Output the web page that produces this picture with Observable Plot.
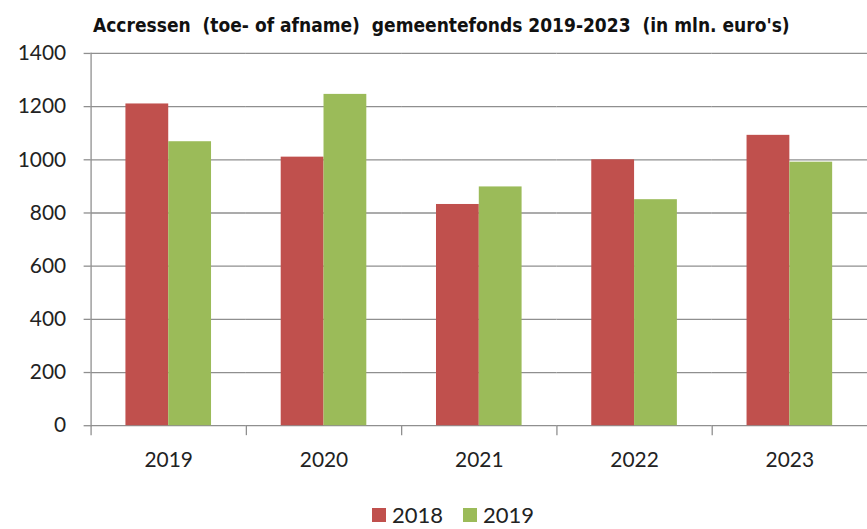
<!DOCTYPE html>
<html>
<head>
<meta charset="utf-8">
<script src="https://cdn.jsdelivr.net/npm/d3@7"></script>
<script src="https://cdn.jsdelivr.net/npm/@observablehq/plot@0.6"></script>
<style>
  html, body { margin: 0; padding: 0; background: #fff; width: 867px; height: 529px; overflow: hidden; position: relative; }
  #title { position: absolute; left: 93px; top: 14px; font-family: "Liberation Sans Narrow", "Arial Narrow", "DejaVu Sans Condensed", sans-serif; font-stretch: condensed; font-weight: bold; font-size: 19px; color: #111; white-space: pre; }
  #chart { position: absolute; left: 0; top: 40px; }
  #legend { position: absolute; left: 372px; top: 501px; display: flex; align-items: center; font-family: Lato, sans-serif; font-size: 22px; color: #222; }
  .sw { width: 14px; height: 14px; display: inline-block; margin-right: 6px; }
  .item { display: flex; align-items: center; margin-right: 20px; }
</style>
</head>
<body>
<div id="title">Accressen  (toe- of afname)  gemeentefonds 2019-2023  (in mln. euro's)</div>
<div id="chart"></div>
<div id="legend"></div>
<script>
const years = ["2019", "2020", "2021", "2022", "2023"];
const series = ["2018", "2019"];
const values2018 = [1210, 1010, 832, 1000, 1092];
const values2019 = [1068, 1246, 898, 850, 991];
const yTicks = [0, 200, 400, 600, 800, 1000, 1200, 1400];
const colors = ["#C0504D", "#9BBB59"];

const data = years.flatMap((yr, i) => [
  {year: yr, series: series[0], value: values2018[i]},
  {year: yr, series: series[1], value: values2019[i]}
]);

const gray = "#8f8f8f";

const chart = Plot.plot({
  width: 871,
  height: 440,
  marginTop: 13,
  marginBottom: 53,
  marginLeft: 91,
  marginRight: 0,
  style: {fontFamily: "Lato, sans-serif", fontSize: "21px", color: "#222", background: "transparent"},
  fx: {domain: years, padding: 0, label: null},
  x: {domain: series, paddingInner: 0, paddingOuter: 0.773, axis: null},
  y: {domain: [0, 1400], label: null},
  color: {domain: series, range: colors},
  marks: [
    Plot.gridY(yTicks, {stroke: gray, strokeOpacity: 1, strokeWidth: 1.3}),
    Plot.barY(data, {fx: "year", x: "series", y: "value", fill: "series"}),
    Plot.frame({anchor: "left", facetAnchor: "left", stroke: gray, strokeWidth: 1.3}),
    Plot.axisY(yTicks, {tickSize: 7, tickPadding: 18, fontSize: 21, tickFormat: d => String(d), stroke: gray, fill: "#222", strokeWidth: 1.3, label: null}),
    Plot.axisFx({anchor: "bottom", tickSize: 0, tickPadding: 27, fontSize: 21, fill: "#222", label: null}),
    Plot.axisFx({anchor: "bottom", text: null, tickSize: 10, dx: -78, stroke: gray, strokeWidth: 1.3, label: null})
  ]
});
document.getElementById("chart").appendChild(chart);

const legend = document.getElementById("legend");
series.forEach((s, i) => {
  const item = document.createElement("div");
  item.className = "item";
  const sw = document.createElement("span");
  sw.className = "sw";
  sw.style.background = colors[i];
  item.appendChild(sw);
  item.appendChild(document.createTextNode(s));
  legend.appendChild(item);
});
</script>
</body>
</html>
